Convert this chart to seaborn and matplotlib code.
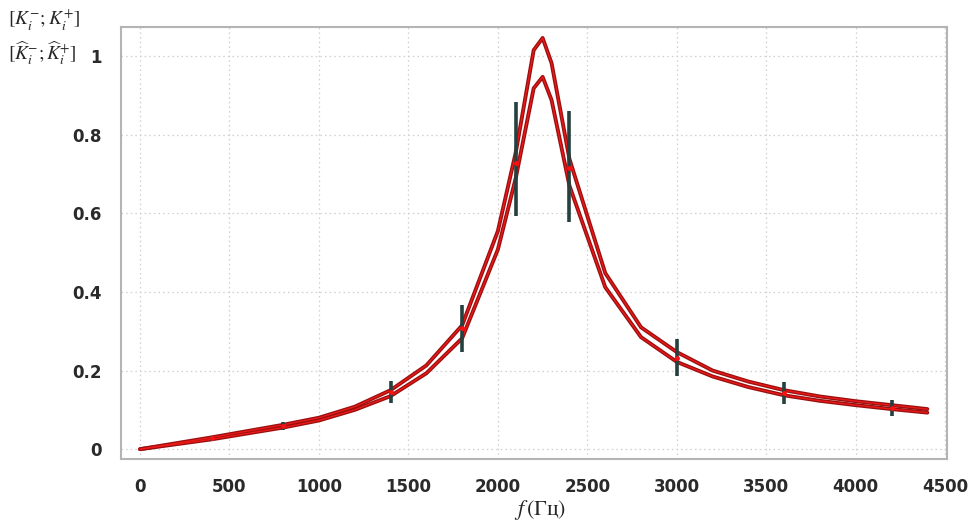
import numpy as np
import pandas as pd
import matplotlib
matplotlib.use("Agg")
import matplotlib.pyplot as plt
import seaborn as sns

# frequency grid and the two bound curves
freq = [0, 400, 800, 1000, 1200, 1400, 1600, 1800, 2000, 2100, 2200, 2250,
        2300, 2400, 2600, 2800, 3000, 3200, 3400, 3600, 3800, 4000, 4200, 4400]
upper = [0, 0.03, 0.062, 0.08, 0.108, 0.15, 0.213, 0.315, 0.555, 0.755, 1.015, 1.046,
         0.982, 0.738, 0.448, 0.31, 0.247, 0.2, 0.172, 0.15, 0.134, 0.122, 0.112, 0.102]
lower = [0, 0.025, 0.055, 0.073, 0.1, 0.135, 0.193, 0.282, 0.508, 0.69, 0.918, 0.947,
         0.888, 0.67, 0.412, 0.285, 0.222, 0.185, 0.158, 0.137, 0.123, 0.112, 0.102, 0.093]

# measured intervals (vertical bars)
bar_f = [400, 800, 1400, 1800, 2100, 2400, 3000, 3600, 4200]
bar_lo = [0.022, 0.048, 0.117, 0.247, 0.593, 0.578, 0.186, 0.115, 0.084]
bar_hi = [0.034, 0.069, 0.173, 0.366, 0.883, 0.860, 0.280, 0.170, 0.125]
bar_mid = [0.028, 0.058, 0.145, 0.308, 0.728, 0.715, 0.233, 0.143, 0.105]

xticks = [0, 500, 1000, 1500, 2000, 2500, 3000, 3500, 4000, 4500]
yticks = [0, 0.2, 0.4, 0.6, 0.8, 1.0]
ytick_labels = ["0", "0.2", "0.4", "0.6", "0.8", "1"]

df = pd.DataFrame({"f": freq + freq,
                   "K": upper + lower,
                   "curve": ["upper"] * len(freq) + ["lower"] * len(freq)})

sns.set_style("white")
plt.rcParams["mathtext.fontset"] = "stix"

fig = plt.figure(figsize=(9.73, 5.25), dpi=100)
ax = fig.add_axes([0.1244, 0.1257, 0.8489, 0.8229])

# dark outline + bright red core for each curve
sns.lineplot(data=df, x="f", y="K", units="curve", estimator=None,
             color="#9a1010", lw=2.8, ax=ax, legend=False)
sns.lineplot(data=df, x="f", y="K", units="curve", estimator=None,
             color="#f01818", lw=0.9, ax=ax, legend=False)

ax.vlines(bar_f, bar_lo, bar_hi, color="#24403f", lw=2.6, zorder=4)
ax.plot(bar_f, bar_mid, ls="none", marker="o", ms=2.5, color="#ff1010", zorder=5)

ax.set_xlim(-106, 4510)
ax.set_ylim(-0.025, 1.074)
ax.set_xticks(xticks)
ax.set_yticks(yticks)
ax.set_yticklabels(ytick_labels)
ax.grid(True, ls=(0, (1.2, 2.5)), color="#cfcfcf", lw=0.9)
for s in ax.spines.values():
    s.set_color("#b4b4b4")
    s.set_linewidth(1.5)
ax.tick_params(axis="both", direction="out", length=6, width=1, color="#9a9a9a",
               labelsize=12, labelcolor="#2a2a2a", pad=8)
for lab in ax.get_xticklabels() + ax.get_yticklabels():
    lab.set_fontweight("bold")
ax.set_xlabel("")
ax.set_ylabel("")

fig.text(0.555, 0.028, r"$f\,\mathrm{(Гц)}$", fontsize=16, ha="center", va="center",
         family="DejaVu Serif")
fig.text(0.008, 0.963, r"$[K_i^{-};K_i^{+}]$", fontsize=14, ha="left", va="center")
fig.text(0.008, 0.898, r"$[\widehat{K}_i^{-};\widehat{K}_i^{+}]$", fontsize=14,
         ha="left", va="center")

fig.savefig("out.png", dpi=100, facecolor="white")
